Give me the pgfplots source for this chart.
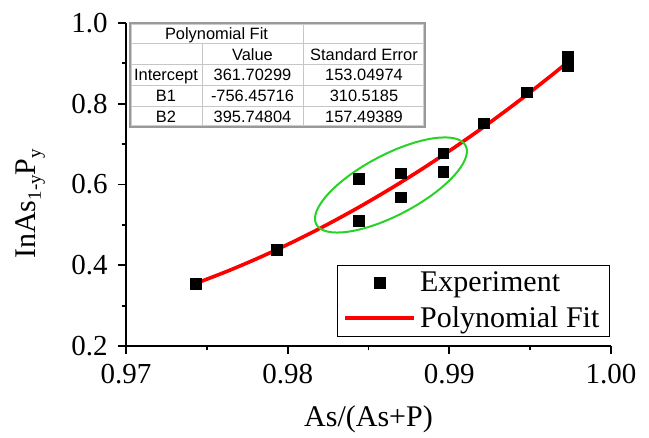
\documentclass[border=0pt]{standalone}
\usepackage{fontspec}
\setmainfont{Liberation Serif}
\newfontfamily\tabfont{Liberation Sans}
\usepackage{pgfplots}
\pgfplotsset{compat=1.18}
\definecolor{fitred}{RGB}{255,0,0}
\definecolor{ellgreen}{RGB}{40,210,40}
\begin{document}
\begin{tikzpicture}
\begin{axis}[
  scale only axis, width=242.5pt, height=161.5pt,
  xmin=0.97, xmax=1.00, ymin=0.2, ymax=1.0,
  axis x line*=bottom, axis y line*=left,
  axis line style={line width=0.9pt, black},
  tick align=outside, major tick length=4pt, minor tick length=2.2pt,
  every tick/.style={black, line width=0.9pt},
  xtick={0.97,0.98,0.99,1.00}, xticklabels={0.97,0.98,0.99,1.00},
  ytick={0.2,0.4,0.6,0.8,1.0}, yticklabels={0.2,0.4,0.6,0.8,1.0},
  minor x tick num=1, minor y tick num=1,
  tick label style={font=\fontsize{14.5}{17}\selectfont},
  xticklabel style={inner sep=0pt, anchor=north, yshift=-5pt},
  yticklabel style={inner sep=0pt, anchor=east, xshift=-5pt},
  xlabel={As/(As+P)},
  ylabel={InAs{\fontsize{9.5}{10}\selectfont\raisebox{-2.5pt}{1-y}}P{\fontsize{9.5}{10}\selectfont\raisebox{-2.5pt}{y}}},
  label style={font=\fontsize{15}{18}\selectfont},
  xlabel style={at={(axis description cs:0.5,0)}, anchor=base, yshift=-40.5pt},
  ylabel style={at={(axis description cs:-0.1856,0.44)}, anchor=base},
  legend style={at={(rel axis cs:0.435,0.251)}, anchor=north west, draw=black, line width=0.6pt,
    font=\fontsize{15}{18}\selectfont, inner xsep=3pt, inner ysep=1pt, row sep=2pt},
  legend cell align=left,
  legend image code/.code={\draw[mark repeat=2,mark phase=2,#1] plot coordinates {(0pt,0pt) (17.25pt,0pt) (34.5pt,0pt)};},
]
\addplot[only marks, mark=square*, mark size=2.6pt, mark options={fill=black, draw=black, line width=0.3pt}] coordinates {
(0.97433,0.354) (0.97934,0.438) (0.98441,0.614) (0.98441,0.510)
(0.98701,0.628) (0.98701,0.569) (0.98961,0.678) (0.98961,0.631)
(0.99214,0.752) (0.99480,0.829) (0.99734,0.916) (0.99734,0.893)
};
\addlegendentry{Experiment}
\addplot[fitred, line width=1.8pt, smooth, no marks] coordinates {
(0.9743,0.35476) (0.9763,0.38574) (0.9783,0.41988) (0.9803,0.45719)
(0.9823,0.49767) (0.9843,0.54131) (0.9863,0.58812) (0.9883,0.63809)
(0.9903,0.69123) (0.9923,0.74753) (0.9943,0.80701) (0.9963,0.86964)
(0.9974,0.90544)
};
\addlegendentry{Polynomial Fit}
\draw[ellgreen, line width=1pt, rotate around={27.8:(axis cs:0.98639,0.5988)}] (axis cs:0.98639,0.5988) ellipse [x radius=42.2pt, y radius=15.1pt];
\end{axis}
\begin{scope}[shift={(-63pt,173pt)}, x=0.5pt, y=-0.5pt]
\fill[white] (130,23) rectangle (425,127);
\draw[gray!45, line width=0.5pt] (130,43.8) -- (425,43.8) (130,64.6) -- (425,64.6) (130,85.4) -- (425,85.4) (130,106.2) -- (425,106.2);
\draw[gray!45, line width=0.5pt] (202,43.8) -- (202,127) (303,23) -- (303,127);
\draw[gray!80, line width=0.7pt] (130,23) rectangle (425,127);
\draw[gray!40, line width=0.4pt] (131.8,24.8) rectangle (423.2,125.2);
\begin{scope}[every node/.style={font=\tabfont\fontsize{8.2}{9}\selectfont, anchor=base, inner sep=0pt}]
\node at (216.5,39.3) {Polynomial Fit};
\node at (252.5,60.1) {Value};
\node at (364,60.1) {Standard Error};
\node at (166,80.9) {Intercept};
\node at (252.5,80.9) {361.70299};
\node at (364,80.9) {153.04974};
\node at (166,101.7) {B1};
\node at (252.5,101.7) {-756.45716};
\node at (364,101.7) {310.5185};
\node at (166,122.5) {B2};
\node at (252.5,122.5) {395.74804};
\node at (364,122.5) {157.49389};
\end{scope}
\end{scope}
\pgfresetboundingbox
\path[use as bounding box] (-63pt,173pt) rectangle (261.5pt,-46pt);
\end{tikzpicture}
\end{document}
